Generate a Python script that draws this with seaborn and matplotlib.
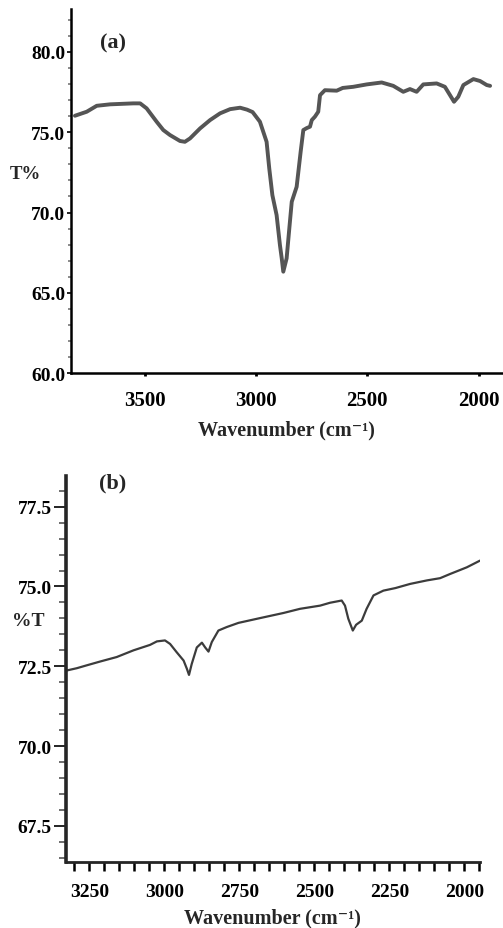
import numpy as np
import pandas as pd
import matplotlib
matplotlib.use("Agg")
import matplotlib.pyplot as plt
from matplotlib.ticker import MultipleLocator, FormatStrFormatter
import seaborn as sns

# ---- data: panel (a) ----
wn_a = [3813, 3760, 3715, 3655, 3551, 3520, 3491, 3446, 3416, 3386, 3341, 3319,
        3296, 3251, 3206, 3161, 3116, 3071, 3040, 3015, 2982, 2952, 2940, 2926,
        2907, 2892, 2884, 2877, 2862, 2850, 2839, 2817, 2799, 2787, 2772, 2757,
        2749, 2735, 2720, 2712, 2690, 2637, 2610, 2563, 2502, 2435, 2383, 2338,
        2308, 2278, 2248, 2188, 2151, 2128, 2110, 2091, 2068, 2023, 1993, 1963, 1948]
t_a = [76.02, 76.27, 76.64, 76.73, 76.79, 76.79, 76.48, 75.65, 75.13, 74.82, 74.45, 74.40,
       74.61, 75.23, 75.75, 76.17, 76.43, 76.52, 76.40, 76.25, 75.65, 74.40, 72.74, 71.08,
       69.84, 67.97, 67.15, 66.32, 67.15, 69.00, 70.67, 71.60, 73.78, 75.13, 75.25, 75.34,
       75.75, 75.96, 76.27, 77.30, 77.61, 77.58, 77.75, 77.82, 77.97, 78.09, 77.88, 77.51,
       77.68, 77.51, 77.97, 78.03, 77.82, 77.30, 76.89, 77.20, 77.93, 78.30, 78.18, 77.93, 77.88]

# ---- data: panel (b) ----
wn_b = [3325, 3292, 3259, 3214, 3159, 3103, 3048, 3025, 2998, 2981, 2959, 2936,
        2925, 2918, 2909, 2892, 2875, 2864, 2853, 2842, 2820, 2792, 2753, 2681,
        2603, 2548, 2481, 2448, 2409, 2398, 2387, 2372, 2361, 2342, 2326, 2303,
        2270, 2230, 2181, 2125, 2081, 2048, 1992, 1948]
t_b = [72.37, 72.44, 72.53, 72.65, 72.79, 73.00, 73.17, 73.28, 73.31, 73.20, 72.94, 72.68,
       72.42, 72.23, 72.57, 73.09, 73.24, 73.09, 72.96, 73.26, 73.62, 73.73, 73.86, 74.01,
       74.17, 74.30, 74.40, 74.49, 74.56, 74.40, 73.99, 73.62, 73.80, 73.93, 74.30, 74.72,
       74.87, 74.95, 75.08, 75.19, 75.26, 75.39, 75.60, 75.81]

xticks_a = [3500, 3000, 2500, 2000]
xticks_b = [3250, 3000, 2750, 2500, 2250, 2000]
yticks_a = [60.0, 65.0, 70.0, 75.0, 80.0]
yticks_b = [67.5, 70.0, 72.5, 75.0, 77.5]
xlabel = "Wavenumber (cm\u207b\u00b9)"

sns.set_theme(style="ticks")
plt.rcParams['font.family'] = ['Liberation Serif', 'DejaVu Serif']
plt.rcParams['font.weight'] = 'bold'

W, H = 503, 929
fig = plt.figure(figsize=(W / 100, H / 100), dpi=100)

def fx(px):
    return px / W

def fy(py):
    return 1 - py / H

# axes (a)
ax_a = fig.add_axes([fx(70.7), fy(374.3), fx(503) - fx(70.7), fy(10) - fy(374.3)])
# axes (b)
ax_b = fig.add_axes([fx(65.7), fy(862.7), fx(480) - fx(65.7), fy(477) - fy(862.7)])

df_a = pd.DataFrame({"wn": wn_a, "T": t_a})
df_b = pd.DataFrame({"wn": wn_b, "T": t_b})

sns.lineplot(data=df_a, x="wn", y="T", ax=ax_a, color="#555555", lw=2.8,
             estimator=None, sort=False)
sns.lineplot(data=df_b, x="wn", y="T", ax=ax_b, color="#3c3c3c", lw=1.6,
             estimator=None, sort=False)

# panel (a) styling
ax_a.set_xlim(3832, 1890)
ax_a.set_ylim(60, 82.66)
ax_a.set_xticks(xticks_a)
ax_a.set_yticks(yticks_a)
ax_a.yaxis.set_major_formatter(FormatStrFormatter('%.1f'))
ax_a.yaxis.set_minor_locator(MultipleLocator(1))
for s in ["top", "right"]:
    ax_a.spines[s].set_visible(False)
for s in ["left", "bottom"]:
    ax_a.spines[s].set_linewidth(1.8)
    ax_a.spines[s].set_color("black")
ax_a.tick_params(axis='y', which='major', length=3, width=1.2, pad=1,
                 labelsize=14, colors='black')
ax_a.tick_params(axis='y', which='minor', length=2, width=1.2, color='#777777')
ax_a.tick_params(axis='x', which='major', length=2, width=2, pad=10,
                 labelsize=15, colors='black')
ax_a.set_xlabel(xlabel, fontsize=14.5, fontweight='bold', labelpad=7)
ax_a.set_ylabel("")
ax_a.grid(False)
fig.text(fx(25), fy(175), "T%", fontsize=13.5, fontweight='bold', ha='center', va='center')
fig.text(fx(113), fy(43), "(a)", fontsize=16, fontweight='bold', ha='center', va='center')

# panel (b) styling
ax_b.set_xlim(3329, 1948)
ax_b.set_ylim(66.38, 78.46)
ax_b.set_xticks(xticks_b)
ax_b.set_yticks(yticks_b)
ax_b.yaxis.set_major_formatter(FormatStrFormatter('%.1f'))
ax_b.yaxis.set_minor_locator(MultipleLocator(0.5))
ax_b.xaxis.set_minor_locator(MultipleLocator(50))
for s in ["top", "right"]:
    ax_b.spines[s].set_visible(False)
ax_b.spines["left"].set_linewidth(2.6)
ax_b.spines["bottom"].set_linewidth(2.0)
ax_b.tick_params(axis='y', which='major', length=9, width=1.2, pad=1,
                 labelsize=14, colors='black')
ax_b.tick_params(axis='y', which='minor', length=5, width=1.2, color='#555555')
ax_b.tick_params(axis='x', which='both', length=6.5, width=1.8, pad=9,
                 labelsize=14, colors='black')
ax_b.set_xlabel(xlabel, fontsize=14.5, fontweight='bold', labelpad=5)
ax_b.set_ylabel("")
ax_b.grid(False)
fig.text(fx(28), fy(621.7), "%T", fontsize=14, fontweight='bold', ha='center', va='center')
fig.text(fx(113), fy(483), "(b)", fontsize=16, fontweight='bold', ha='center', va='center')

for ax in (ax_a, ax_b):
    for lab in ax.get_xticklabels() + ax.get_yticklabels():
        lab.set_fontweight('bold')

fig.savefig("out.png", dpi=100, facecolor='white')
